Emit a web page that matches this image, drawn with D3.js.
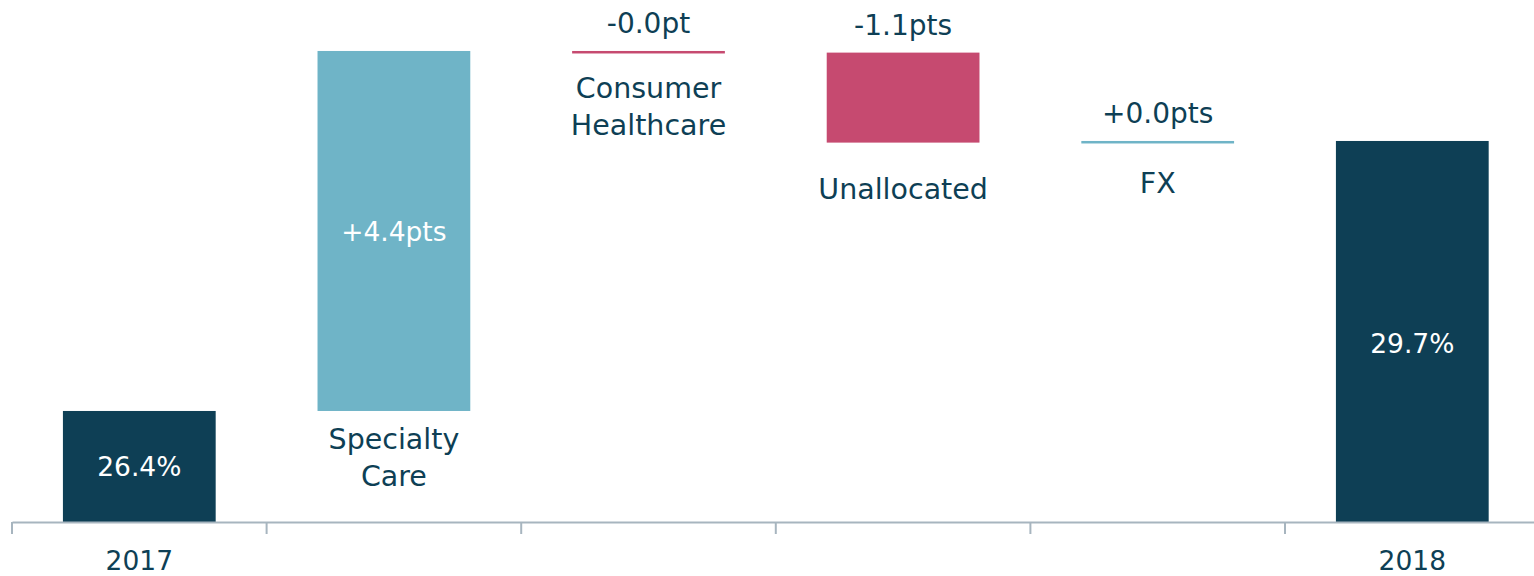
<!DOCTYPE html>
<html>
<head>
<meta charset="utf-8">
<script src="https://cdn.jsdelivr.net/npm/d3@7"></script>
<style>
  body { margin: 0; background: #fff; }
  svg { display: block; font-family: "DejaVu Sans", sans-serif; }
</style>
</head>
<body>
<script>
// waterfall data
var categories = ["2017", "Specialty Care", "Consumer Healthcare", "Unallocated", "FX", "2018"];
var kinds = ["total", "delta", "delta", "delta", "delta", "total"];
var values = [26.4, 4.4, -0.02, -1.1, 0.02, 29.7];
var valueLabels = ["26.4%", "+4.4pts", "-0.0pt", "-1.1pts", "+0.0pts", "29.7%"];

var width = 1534, height = 576;
var baseY = 522;

var dark = "#0e3f55", up = "#6fb4c7", down = "#c64a70", axisCol = "#a7b5bf";

// running totals -> start / end of each bar
var rows = [];
var run = 0;
categories.forEach(function(c, i) {
    var s, e;
    if (kinds[i] == "total") { s = d3.min([25.043, values[i]]); e = values[i]; run = values[i]; }
    else { s = run; e = run + values[i]; run = e; }
    rows.push({cat: c, kind: kinds[i], v: values[i], s: s, e: e, label: valueLabels[i], i: i});
});

var x = d3.scaleBand().domain(categories).range([12, 1539.6]).paddingInner(0.4).paddingOuter(0.2);
var y = d3.scaleLinear().domain([25.043, 31.423]).range([baseY, 0]);

var svg = d3.select("body").append("svg")
    .attr("width", width)
    .attr("height", height);

// bars
svg.selectAll("rect.bar").data(rows).enter().append("rect")
    .attr("class", "bar")
    .attr("x", function(d) { return x(d.cat); })
    .attr("width", x.bandwidth())
    .attr("y", function(d) { return y(Math.max(d.s, d.e)); })
    .attr("height", function(d) {
        var h = Math.abs(y(d.s) - y(d.e));
        return d.kind == "delta" && Math.abs(d.v) < 0.05 ? Math.max(h, 2.5) : h;
    })
    .attr("fill", function(d) {
        if (d.kind == "total") return dark;
        return d.v >= 0 ? up : down;
    });

// axis
var axis = svg.append("g")
    .attr("transform", "translate(0," + baseY + ")")
    .call(d3.axisBottom(x).tickSize(0).tickSizeOuter(0)
        .tickFormat(function(c) { return kinds[categories.indexOf(c)] == "total" ? c : ""; }));
axis.select(".domain").attr("stroke", axisCol).attr("stroke-width", 2);
axis.selectAll("text")
    .attr("y", 48).attr("dy", null)
    .attr("fill", dark)
    .style("font-size", "26.5px")
    .style("font-family", "DejaVu Sans, sans-serif");

// separator ticks between categories
var bounds = categories.map(function(c) { return x(c) - x.step() * x.paddingInner() / 2; });
axis.selectAll("line.sep").data(bounds).enter().append("line")
    .attr("class", "sep")
    .attr("x1", function(d) { return d; }).attr("x2", function(d) { return d; })
    .attr("y1", 0).attr("y2", 12)
    .attr("stroke", axisCol).attr("stroke-width", 2);

// value labels: inside for totals and tall bars, else above
function inside(d) {
    return d.kind == "total" || Math.abs(y(d.s) - y(d.e)) > 150;
}
var nudgeIn = [0, 0, 0, 0, 0, 12];
svg.selectAll("text.val").data(rows).enter().append("text")
    .attr("class", "val")
    .attr("x", function(d) { return x(d.cat) + x.bandwidth() / 2; })
    .attr("y", function(d) {
        if (inside(d)) return (y(d.s) + y(d.e)) / 2 + nudgeIn[d.i];
        return y(Math.max(d.s, d.e)) - 18;
    })
    .attr("dy", function(d) { return inside(d) ? "0.36em" : null; })
    .attr("text-anchor", "middle")
    .attr("fill", function(d) { return inside(d) ? "#fff" : dark; })
    .style("font-size", function(d) { return inside(d) ? "26.5px" : "28px"; })
    .text(function(d) { return d.label; });

// category labels under the delta bars
var labelGap = [0, 38, 45, 56, 50, 0];
var catText = svg.selectAll("text.cat").data(rows.filter(function(d) { return d.kind == "delta"; }))
    .enter().append("text")
    .attr("class", "cat")
    .attr("text-anchor", "middle")
    .attr("fill", dark)
    .style("font-size", "28.5px")
    .attr("transform", function(d) {
        var bottom = y(Math.min(d.s, d.e));
        if (Math.abs(d.v) < 0.05) bottom = y(Math.max(d.s, d.e)) + 2;
        return "translate(" + (x(d.cat) + x.bandwidth() / 2) + "," + (bottom + labelGap[d.i]) + ")";
    });
catText.selectAll("tspan").data(function(d) { return d.cat.split(" "); })
    .enter().append("tspan")
    .attr("x", 0)
    .attr("dy", function(t, j) { return j == 0 ? 0 : 37; })
    .text(function(t) { return t; });
</script>
</body>
</html>
